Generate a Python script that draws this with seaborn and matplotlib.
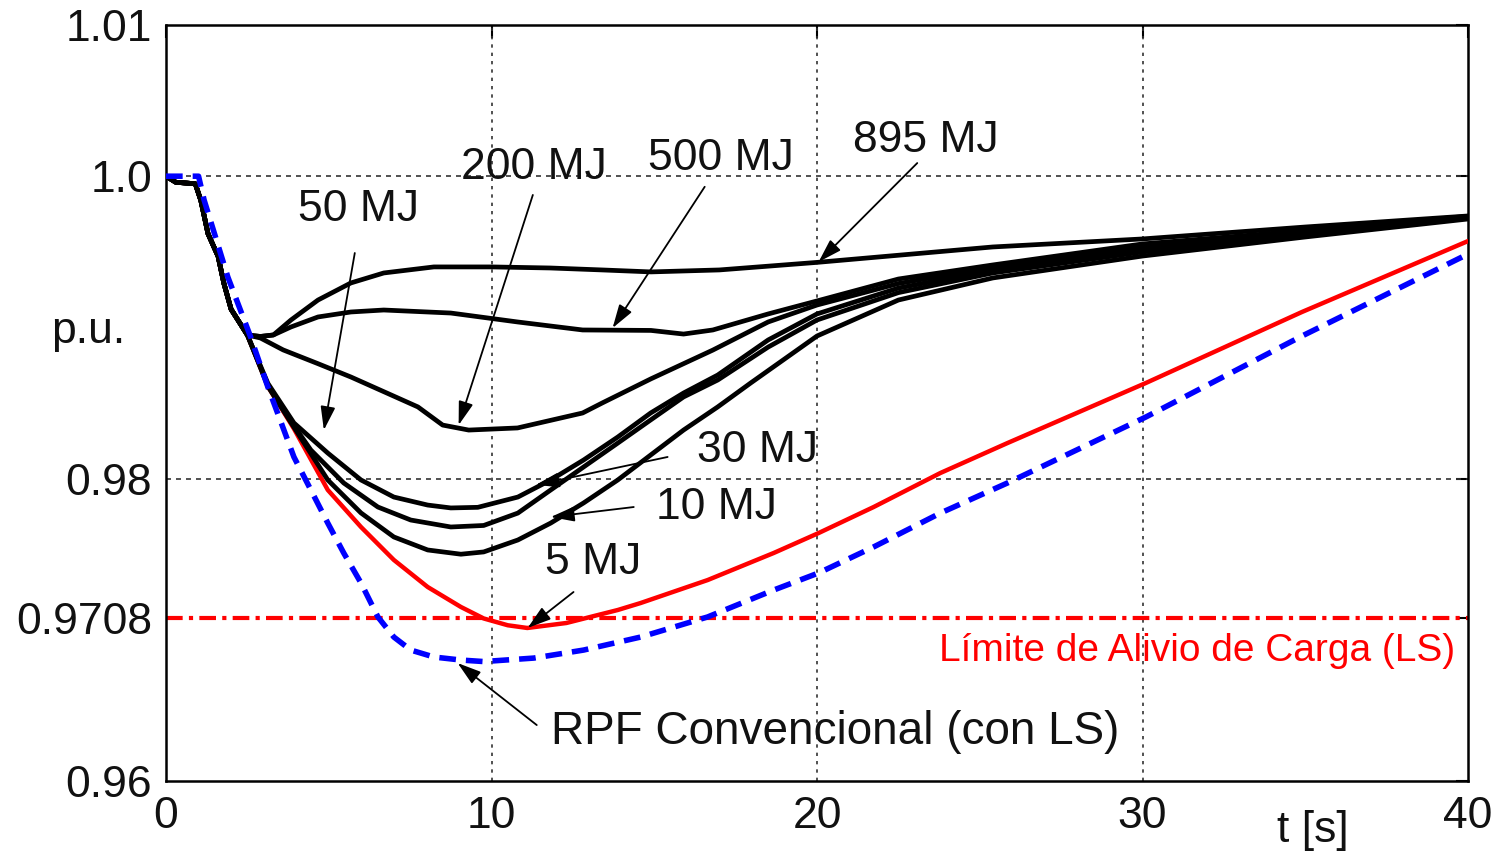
import numpy as np
import pandas as pd
import seaborn as sns
import matplotlib.pyplot as plt

# shared early part of the frequency response (all ESS cases)
t_start = [0.0, 0.3, 0.9, 1.07, 1.29, 1.6, 1.78, 2.0, 2.5]
v_start = [1.0, 0.9996, 0.9995, 0.9984, 0.9962, 0.9947, 0.9929, 0.9912, 0.9895]

t_895 = [2.9, 3.3, 3.84, 4.67, 5.68, 6.69, 8.23, 10.0, 11.8, 13.4, 14.9, 17.0, 20.0, 25.4, 30.0, 35.0, 40.0]
v_895 = [0.9894, 0.9895, 0.99049, 0.99181, 0.99294, 0.99360, 0.99400, 0.99400, 0.99393, 0.99380, 0.99367,
         0.99380, 0.99430, 0.99532, 0.99585, 0.99664, 0.99737]

t_500 = [2.9, 3.3, 3.84, 4.67, 5.68, 6.69, 8.75, 10.8, 12.8, 14.9, 15.9, 16.8, 18.5, 20.0, 22.5, 25.4, 30.0, 35.0, 40.0]
v_500 = [0.9894, 0.9895, 0.99003, 0.99069, 0.99102, 0.99115, 0.99095, 0.99036, 0.98983, 0.98980, 0.98956,
         0.98983, 0.99089, 0.99175, 0.99320, 0.99413, 0.99552, 0.99640, 0.99735]

t_200 = [2.9, 3.6, 4.67, 5.68, 6.69, 7.74, 8.5, 9.3, 10.8, 12.8, 13.4, 14.9, 16.8, 18.5, 20.0, 22.5, 25.4, 30.0, 35.0, 40.0]
v_200 = [0.9893, 0.98851, 0.98760, 0.98672, 0.98575, 0.98474, 0.98354, 0.98321, 0.98335, 0.98434, 0.98500,
         0.98660, 0.98850, 0.99036, 0.99148, 0.99290, 0.99400, 0.99532, 0.99630, 0.99730]

t_50 = [3.13, 3.93, 4.97, 5.99, 7.0, 8.04, 8.75, 9.58, 10.81, 11.82, 12.83, 13.88, 14.89, 15.9, 16.95, 18.5,
        20.0, 22.5, 25.4, 30.0, 35.0, 40.0]
v_50 = [0.9863, 0.98368, 0.98169, 0.97991, 0.97878, 0.97825, 0.97806, 0.97810, 0.97878, 0.97991, 0.98123,
        0.98275, 0.98434, 0.98566, 0.98685, 0.98917, 0.99089, 0.99260, 0.99380, 0.99512, 0.99618, 0.99724]

t_30 = [3.13, 3.93, 4.45, 5.46, 6.51, 7.52, 8.75, 9.76, 10.81, 11.82, 12.83, 13.88, 14.89, 15.9, 16.95, 18.5,
        20.0, 22.5, 25.4, 30.0, 35.0, 40.0]
v_30 = [0.9862, 0.98350, 0.98189, 0.97971, 0.97812, 0.97726, 0.97680, 0.97690, 0.97772, 0.97925, 0.98077,
        0.98235, 0.98388, 0.98540, 0.98652, 0.98870, 0.99049, 0.99230, 0.99360, 0.99499, 0.99611, 0.99724]

t_10 = [3.13, 3.93, 4.97, 5.99, 7.0, 8.04, 9.06, 9.76, 10.81, 11.82, 12.83, 13.88, 14.89, 15.9, 16.95, 17.96,
        20.0, 22.5, 25.4, 30.0, 35.0, 40.0]
v_10 = [0.9861, 0.98340, 0.97991, 0.97773, 0.97614, 0.97528, 0.97500, 0.97515, 0.97594, 0.97706, 0.97839,
        0.97991, 0.98156, 0.98321, 0.98474, 0.98632, 0.98943, 0.99181, 0.99327, 0.99472, 0.99598, 0.99717]

t_5 = [3.13, 3.93, 4.97, 5.99, 7.0, 8.04, 9.06, 9.76, 10.5, 11.1, 12.3, 13.88, 14.58, 16.64, 18.67, 20.05,
       21.74, 23.79, 25.85, 30.1, 34.9, 40.0]
v_5 = [0.9861, 0.98330, 0.97925, 0.97680, 0.97462, 0.97283, 0.97151, 0.97075, 0.97030, 0.97012, 0.97045,
       0.97131, 0.97177, 0.97329, 0.97508, 0.97640, 0.97812, 0.98037, 0.98235, 0.98632, 0.99102, 0.99571]

# conventional primary frequency response with load shedding
t_rpf = [0.0, 0.5, 1.0, 1.17, 1.9, 2.6, 3.13, 3.93, 4.45, 4.97, 5.46, 5.99, 6.51, 7.0, 7.52, 8.23, 9.06, 9.76,
         11.3, 12.83, 14.58, 16.64, 18.67, 20.05, 21.74, 23.79, 25.85, 30.1, 34.9, 40.0]
v_rpf = [1.0, 1.0, 1.0, 0.99843, 0.99333, 0.98937, 0.98606, 0.98143, 0.97925, 0.97706, 0.97508, 0.97310,
         0.97085, 0.96952, 0.96866, 0.96820, 0.96800, 0.96790, 0.96813, 0.96866, 0.96952, 0.97085, 0.97263,
         0.97376, 0.97548, 0.97772, 0.97971, 0.98407, 0.98943, 0.99485]

ls_limit = 0.9708

y_ticks = [0.96, 0.9708, 0.98, 1.0, 1.01]
y_labels = ["0.96", "0.9708", "0.98", "1.0", "1.01"]
x_ticks = [0, 10, 20, 30, 40]

sns.set_style("white")
plt.rcParams["font.family"] = ["Liberation Sans", "DejaVu Sans"]
plt.rcParams["text.color"] = "black"
fs = 32

fig = plt.figure(figsize=(15.07, 8.56), dpi=100)
ax = fig.add_axes([166 / 1507, 1 - 781 / 856, 1302 / 1507, 756 / 856])

# grid first
for xv in x_ticks[1:-1]:
    ax.axvline(xv, color="0.2", lw=1.2, ls=(0, (2, 3)), zorder=1)
for yv in [0.98, 1.0]:
    ax.axhline(yv, color="0.2", lw=1.2, ls=(0, (3, 3)), zorder=1)

ax.axhline(ls_limit, color="#ff0000", lw=3, ls=(0, (4, 1.5, 1, 1.5)), zorder=2)

df = pd.DataFrame({"t": t_start + t_5, "v": v_start + v_5})
sns.lineplot(data=df, x="t", y="v", color="#ff0000", lw=3.2, ax=ax, sort=False, zorder=3)

black_curves = [(t_895, v_895), (t_500, v_500), (t_200, v_200), (t_50, v_50), (t_30, v_30), (t_10, v_10)]
for tt, vv in black_curves:
    df = pd.DataFrame({"t": t_start + tt, "v": v_start + vv})
    sns.lineplot(data=df, x="t", y="v", color="black", lw=3.4, ax=ax, sort=False, zorder=4)

df = pd.DataFrame({"t": t_rpf, "v": v_rpf})
sns.lineplot(data=df, x="t", y="v", color="#0000ff", lw=4, ls=(0, (3, 1.8)), ax=ax, sort=False, zorder=5)

ax.set_xlim(0, 40)
ax.set_ylim(0.96, 1.01)
ax.set_xticks(x_ticks)
ax.set_xticklabels([str(x) for x in x_ticks])
ax.set_yticks(y_ticks)
ax.set_yticklabels(y_labels)
ax.tick_params(direction="in", length=9, width=1.5, top=True, right=True, labelsize=fs,
               colors="black", labelcolor="#111111")
ax.tick_params(axis="x", pad=11)
ax.tick_params(axis="y", pad=10)
for sp in ax.spines.values():
    sp.set_color("black")
    sp.set_linewidth(1.8)

ax.set_xlabel("t [s]", fontsize=fs, va="center", ha="center", color="#111111")
ax.xaxis.set_label_coords(0.881, -0.065)
ax.set_ylabel("p.u.", fontsize=fs, rotation=0, va="center", ha="center", color="#111111")
ax.yaxis.set_label_coords(-0.06, 0.594)

arrow = dict(arrowstyle="-|>,head_length=0.8,head_width=0.25", color="black", lw=1.3,
             mutation_scale=18, shrinkA=0, shrinkB=0)

labels = [
    ("895 MJ", (23.33, 1.00239), (23.08, 1.00087), (20.05, 0.99433)),
    ("500 MJ", (17.04, 1.00120), (16.55, 0.99930), (13.72, 0.98996)),
    ("200 MJ", (11.30, 1.00058), (11.27, 0.99876), (8.99, 0.98354)),
    ("50 MJ", (5.92, 0.99777), (5.80, 0.99492), (4.85, 0.98321)),
    ("30 MJ", (18.17, 0.98189), (15.41, 0.98143), (11.36, 0.97958)),
    ("10 MJ", (16.91, 0.97812), (14.37, 0.97812), (11.82, 0.97746)),
    ("5 MJ", (13.11, 0.97442), (12.52, 0.97250), (11.11, 0.97012)),
]
for txt, pos, tail, tip in labels:
    ax.text(pos[0], pos[1], txt, fontsize=fs, ha="center", va="center", color="#111111", zorder=6)
    ax.annotate("", xy=tip, xytext=tail, arrowprops=arrow, zorder=6)

ax.text(11.82, 0.96324, "RPF Convencional (con LS)", fontsize=33, ha="left", va="center",
        color="#111111", zorder=6)
ax.annotate("", xy=(8.96, 0.96780), xytext=(11.39, 0.96370), arrowprops=arrow, zorder=6)

ax.text(39.6, 0.96860, "Límite de Alivio de Carga (LS)", fontsize=28, color="#ff0000",
        ha="right", va="center", zorder=6)

fig.savefig("out.png", dpi=100)
